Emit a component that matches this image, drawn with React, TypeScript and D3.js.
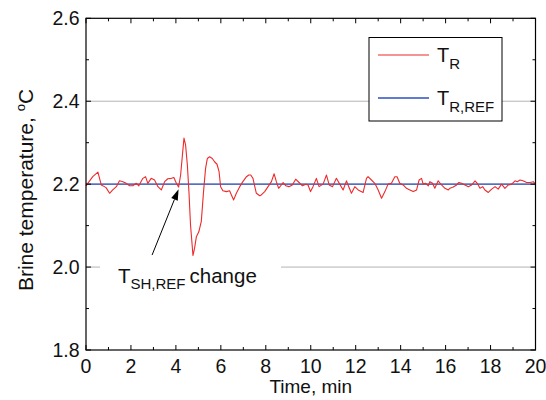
import React from "react";
import * as d3 from "d3";

const timeMin = [0, 0.08, 0.3, 0.53, 0.68, 0.82, 0.9, 1.05, 1.19, 1.35, 1.49, 1.64, 1.79, 1.94, 2.08, 2.24, 2.35, 2.53, 2.65, 2.75, 2.9, 3.05, 3.2, 3.35, 3.5, 3.64, 3.8, 3.91, 4.02, 4.12, 4.21, 4.29, 4.36, 4.43, 4.51, 4.58, 4.65, 4.76, 4.83, 4.91, 5.02, 5.13, 5.23, 5.32, 5.4, 5.5, 5.62, 5.72, 5.83, 5.92, 5.99, 6.09, 6.25, 6.39, 6.47, 6.57, 6.69, 6.84, 6.98, 7.14, 7.24, 7.33, 7.43, 7.51, 7.58, 7.73, 7.8, 7.95, 8.1, 8.25, 8.37, 8.47, 8.57, 8.69, 8.77, 8.89, 9.03, 9.18, 9.33, 9.48, 9.63, 9.78, 9.88, 9.99, 10.1, 10.25, 10.37, 10.55, 10.7, 10.82, 10.97, 11.14, 11.29, 11.44, 11.59, 11.66, 11.81, 11.96, 12.11, 12.33, 12.48, 12.55, 12.7, 12.85, 13.0, 13.15, 13.3, 13.44, 13.59, 13.74, 13.84, 13.96, 14.11, 14.26, 14.41, 14.56, 14.71, 14.82, 14.93, 15.0, 15.12, 15.23, 15.3, 15.42, 15.52, 15.67, 15.82, 15.97, 16.12, 16.19, 16.34, 16.49, 16.59, 16.71, 16.86, 17.01, 17.16, 17.31, 17.41, 17.53, 17.65, 17.75, 17.9, 18.05, 18.2, 18.34, 18.49, 18.64, 18.79, 18.94, 19.09, 19.19, 19.31, 19.44, 19.61, 19.76, 19.9, 20.0];

const tR = [2.196, 2.202, 2.218, 2.229, 2.198, 2.194, 2.191, 2.178, 2.186, 2.194, 2.208, 2.206, 2.202, 2.196, 2.196, 2.202, 2.196, 2.214, 2.218, 2.202, 2.214, 2.21, 2.194, 2.186, 2.206, 2.213, 2.214, 2.216, 2.202, 2.193, 2.222, 2.27, 2.311, 2.295, 2.246, 2.182, 2.102, 2.028, 2.045, 2.073, 2.085, 2.11, 2.182, 2.238, 2.262, 2.266, 2.262, 2.254, 2.248, 2.23, 2.194, 2.184, 2.182, 2.184, 2.174, 2.162, 2.178, 2.194, 2.206, 2.218, 2.222, 2.222, 2.214, 2.194, 2.178, 2.172, 2.174, 2.182, 2.194, 2.206, 2.225, 2.206, 2.19, 2.198, 2.204, 2.196, 2.194, 2.198, 2.212, 2.204, 2.196, 2.2, 2.198, 2.182, 2.194, 2.214, 2.194, 2.2, 2.222, 2.198, 2.194, 2.214, 2.2, 2.186, 2.208, 2.198, 2.178, 2.194, 2.186, 2.18, 2.214, 2.218, 2.21, 2.202, 2.186, 2.166, 2.182, 2.2, 2.202, 2.218, 2.218, 2.202, 2.198, 2.19, 2.186, 2.182, 2.186, 2.21, 2.214, 2.2, 2.202, 2.196, 2.206, 2.202, 2.19, 2.208, 2.198, 2.19, 2.186, 2.19, 2.193, 2.198, 2.204, 2.202, 2.198, 2.194, 2.198, 2.208, 2.202, 2.19, 2.194, 2.186, 2.18, 2.188, 2.194, 2.188, 2.2, 2.19, 2.198, 2.2, 2.208, 2.206, 2.21, 2.208, 2.204, 2.204, 2.206, 2.2];

const tRef = [2.2, 2.2];
const refTime = [0, 20];

const xMajorTicks = [0, 2, 4, 6, 8, 10, 12, 14, 16, 18, 20];
const xMinorTicks = [1, 3, 5, 7, 9, 11, 13, 15, 17, 19];
const yMajorTicks = [1.8, 2.0, 2.2, 2.4, 2.6];
const yMinorTicks = [1.9, 2.1, 2.3, 2.5];
const gridValues = [2.0, 2.2, 2.4];

const FONT = "'Liberation Sans', Arial, Helvetica, sans-serif";

export default function App() {
  const W = 546, H = 400;
  const L = 86, R = 535.5, T = 18.3, B = 350;
  const x = d3.scaleLinear().domain([0, 20]).range([L, R]);
  const y = d3.scaleLinear().domain([1.8, 2.6]).range([B, T]);

  const redPts: [number, number][] = timeMin.map((t, i) => [t, tR[i]]);
  const bluePts: [number, number][] = refTime.map((t, i) => [t, tRef[i]]);
  const line = d3.line<[number, number]>().x(d => x(d[0])).y(d => y(d[1]));

  const fmt = d3.format(".1f");
  const maj = 5, min = 3;

  const tail = [x(2.94), y(2.029)];
  const tip = [x(4.12), y(2.188)];
  const ang = Math.atan2(tip[1] - tail[1], tip[0] - tail[0]);
  const ah = 11, aw = 3.5;
  const bx = tip[0] - ah * Math.cos(ang), by = tip[1] - ah * Math.sin(ang);
  const head = `${tip[0]},${tip[1]} ${bx + aw * Math.sin(ang)},${by - aw * Math.cos(ang)} ${bx - aw * Math.sin(ang)},${by + aw * Math.cos(ang)}`;

  return (
    <svg width={W} height={H} style={{ position: "absolute", left: 0, top: 0, background: "#fff" }} fontFamily={FONT}>
      <rect x={0} y={0} width={W} height={H} fill="#fff" />
      {gridValues.map(v => (
        <line key={"g" + v} x1={L} x2={R} y1={y(v)} y2={y(v)} stroke="#b4b4b4" strokeWidth={1} />
      ))}
      <rect x={100} y={258} width={181} height={36} fill="#fff" />
      <path d={line(bluePts) || ""} fill="none" stroke="#2b4fbf" strokeWidth={1.3} />
      <path d={line(redPts) || ""} fill="none" stroke="#ee2a2a" strokeWidth={1.1} strokeLinejoin="round" />

      <rect x={L} y={T} width={R - L} height={B - T} fill="none" stroke="#000" strokeWidth={1.2} />
      {xMajorTicks.map(t => (
        <g key={"xM" + t}>
          <line x1={x(t)} x2={x(t)} y1={B} y2={B - maj} stroke="#000" />
          <line x1={x(t)} x2={x(t)} y1={T} y2={T + maj} stroke="#000" />
          <text x={x(t)} y={373} fontSize={19.5} textAnchor="middle" fill="#111">{t}</text>
        </g>
      ))}
      {xMinorTicks.map(t => (
        <g key={"xm" + t}>
          <line x1={x(t)} x2={x(t)} y1={B} y2={B - min} stroke="#000" />
          <line x1={x(t)} x2={x(t)} y1={T} y2={T + min} stroke="#000" />
        </g>
      ))}
      {yMajorTicks.map(v => (
        <g key={"yM" + v}>
          <line x1={L} x2={L + maj} y1={y(v)} y2={y(v)} stroke="#000" />
          <line x1={R} x2={R - maj} y1={y(v)} y2={y(v)} stroke="#000" />
          <text x={79.5} y={y(v) + 7} fontSize={19.5} textAnchor="end" fill="#111">{fmt(v)}</text>
        </g>
      ))}
      {yMinorTicks.map(v => (
        <g key={"ym" + v}>
          <line x1={L} x2={L + min} y1={y(v)} y2={y(v)} stroke="#000" />
          <line x1={R} x2={R - min} y1={y(v)} y2={y(v)} stroke="#000" />
        </g>
      ))}

      <text x={(L + R) / 2} y={393} fontSize={19} textAnchor="middle" fill="#111">Time, min</text>
      <text transform={`translate(33,190) rotate(-90)`} fontSize={21} textAnchor="middle" fill="#111">
        Brine temperature, <tspan fontSize={13} dy={-8}>o</tspan><tspan dy={8}>C</tspan>
      </text>

      <rect x={369} y={37.5} width={133} height={83.5} fill="#fff" stroke="#000" strokeWidth={1} />
      <line x1={378} x2={429} y1={55} y2={55} stroke="#ee2a2a" strokeWidth={1.1} />
      <text x={437} y={62} fontSize={20} fill="#111">T<tspan fontSize={15} dy={7}>R</tspan></text>
      <line x1={378} x2={429} y1={98} y2={98} stroke="#2b4fbf" strokeWidth={1.3} />
      <text x={437} y={105} fontSize={20} fill="#111">T<tspan fontSize={15} dy={7}>R,REF</tspan></text>

      <line x1={tail[0]} y1={tail[1]} x2={bx} y2={by} stroke="#000" strokeWidth={1} />
      <polygon points={head} fill="#000" />
      <text x={118} y={283} fontSize={20.5} fill="#111">T<tspan fontSize={15} dy={6}>SH,REF</tspan><tspan dy={-6} dx={4}>change</tspan></text>
    </svg>
  );
}
